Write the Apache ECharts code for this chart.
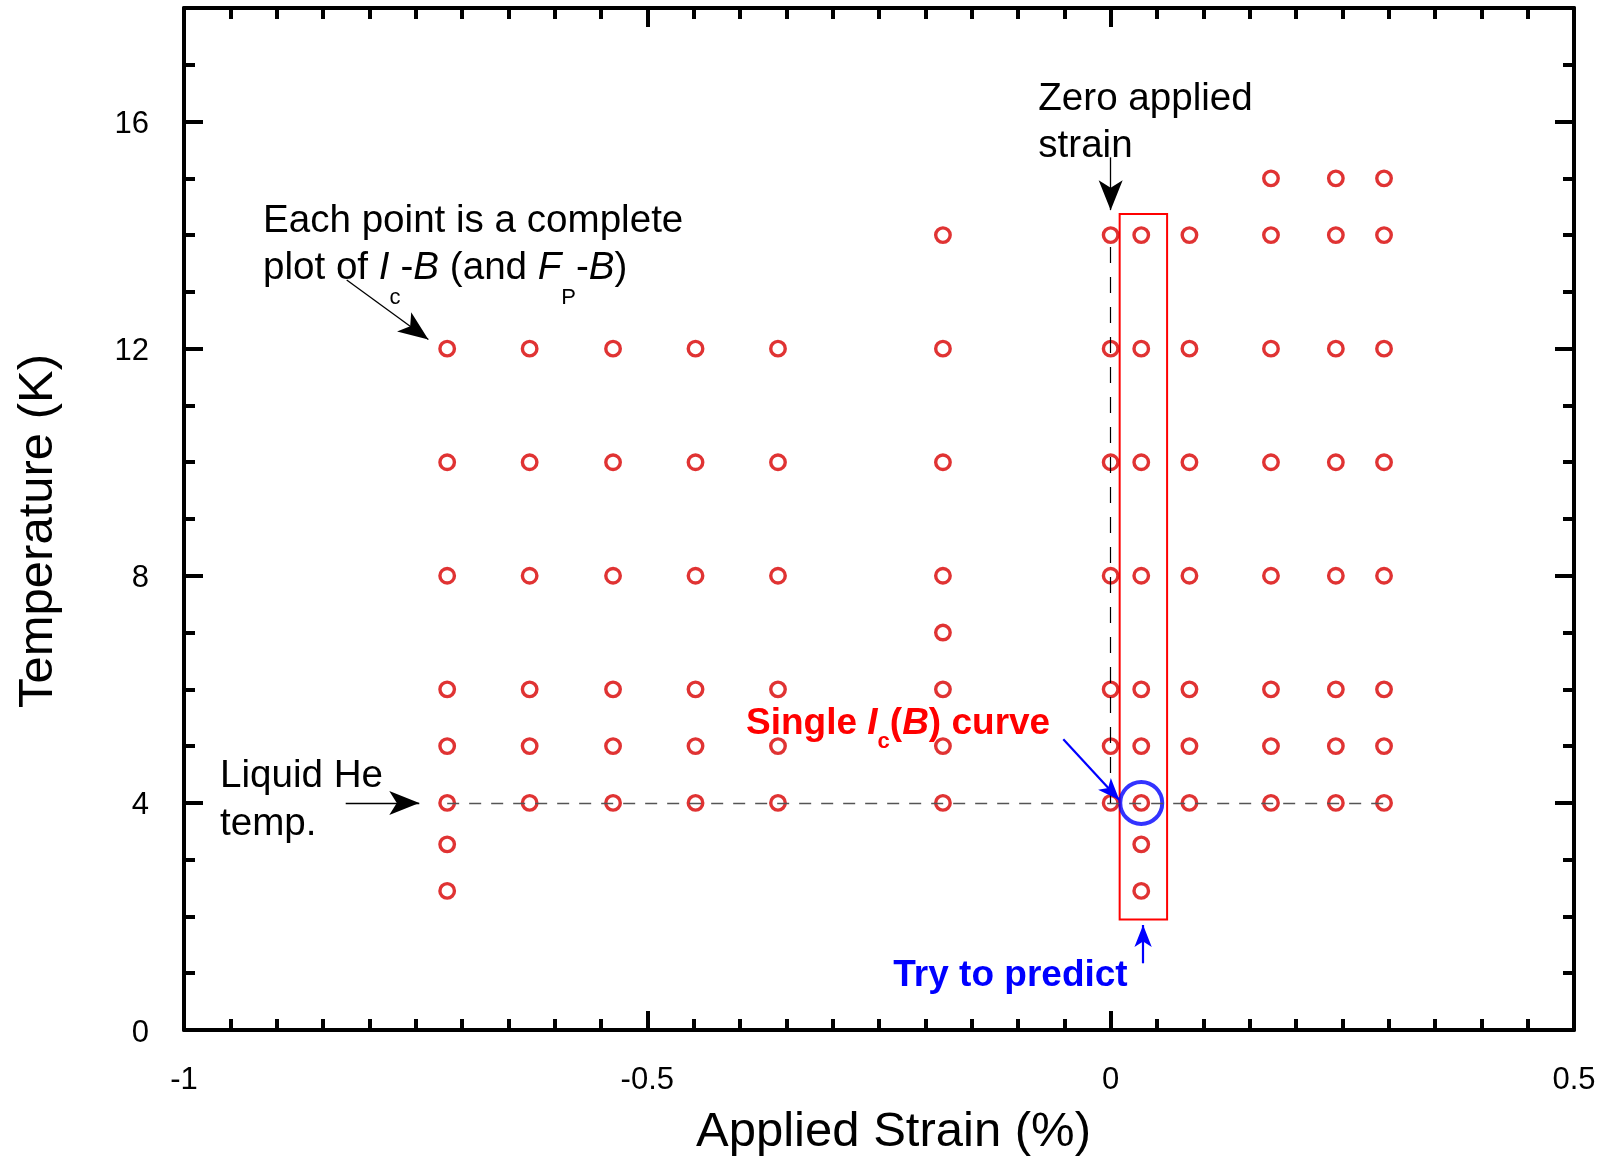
<!DOCTYPE html>
<html>
<head>
<meta charset="utf-8">
<script src="https://cdn.jsdelivr.net/npm/echarts@6/dist/echarts.min.js"></script>
<style>
html,body{margin:0;padding:0;background:#fff;}
#chart{width:1616px;height:1159px;}
</style>
</head>
<body>
<div id="chart"></div>
<script>
// ---- Data ----
const strainColumns = [-0.716, -0.627, -0.537, -0.448, -0.359, -0.181, 0, 0.033, 0.085, 0.173, 0.243, 0.295];
const tempsLongestColumn = [12, 10, 8, 6, 5, 4, 3.27, 2.45];
const tempsCompressive = [12, 10, 8, 6, 5, 4];
const tempsSmallCompressive = [14, 12, 10, 8, 7, 6, 5, 4];
const tempsZeroStrain = [14, 12, 10, 8, 6, 5, 4];
const tempsPredictColumn = [14, 12, 10, 8, 6, 5, 4, 3.27, 2.45];
const tempsSmallTensile = [14, 12, 10, 8, 6, 5, 4];
const tempsTensile = [15, 14, 12, 10, 8, 6, 5, 4];
const columnTemps = [tempsLongestColumn, tempsCompressive, tempsCompressive, tempsCompressive, tempsCompressive,
  tempsSmallCompressive, tempsZeroStrain, tempsPredictColumn, tempsSmallTensile, tempsTensile, tempsTensile, tempsTensile];

const xTickLabels = [-1, -0.5, 0, 0.5];
const yTickLabels = [0, 4, 8, 12, 16];

const liquidHeTemp = 4;
const predictedStrain = 0.033;
const predictedTemp = 4;
const predictBoxStrain = [0.0097, 0.0609];
const predictBoxTemp = [1.945, 14.37];
const zeroLineTemp = [4, 14];
const heLineStrain = [-0.716, 0.295];

// arrows: [start, tip] in data coordinates
const arrowEachPoint = [[-0.8244, 13.21], [-0.7363, 12.16]];
const arrowLiquidHe = [[-0.8255, 4], [-0.7461, 4]];
const arrowZero = [[0, 15.37], [0, 14.44]];
const arrowSingle = [[-0.0511, 5.12], [0.0094, 4.05]];
const arrowTry = [[0.035, 1.175], [0.035, 1.849]];

const points = [];
strainColumns.forEach((s, i) => columnTemps[i].forEach(t => points.push([s, t])));

const FONT = "'Liberation Sans', Arial, Helvetica, sans-serif";
const axisCommon = {
  type: 'value',
  splitLine: { show: false },
  minorSplitLine: { show: false },
  axisLine: { show: true, onZero: false, lineStyle: { color: '#000', width: 4 } },
  axisTick: { show: true, inside: true, length: 19, lineStyle: { color: '#000', width: 4 } }
};
const hiddenLine = { show: false, onZero: false, lineStyle: { color: '#000', width: 4 } };

const chart = echarts.init(document.getElementById('chart'), null, { renderer: 'canvas' });

function arrowLine(pair, color, width, size) {
  return [
    { coord: pair[0], symbol: 'none', lineStyle: { color: color, width: width, type: 'solid' } },
    { coord: pair[1], symbol: 'arrow', symbolSize: size }
  ];
}

const mainStyle = (sz, extra) => Object.assign({ fontFamily: FONT, fontSize: sz, lineHeight: 44, verticalAlign: 'top' }, extra || {});

const option = {
  animation: false,
  backgroundColor: '#fff',
  grid: { left: 184, top: 8, width: 1390, height: 1022, outerBoundsMode: 'none', containLabel: false },
  xAxis: [
    Object.assign({}, axisCommon, {
      position: 'bottom', min: -1, max: 0.5, interval: 0.5,
      minorTick: { show: true, splitNumber: 10, length: 11, lineStyle: { color: '#000', width: 4 } },
      axisLabel: { show: true, fontSize: 31, fontFamily: FONT, color: '#000', margin: 35,
        formatter: v => (xTickLabels.indexOf(+v) >= 0 ? String(+v) : '') }
    }),
    Object.assign({}, axisCommon, {
      position: 'top', min: -1, max: 0.5, interval: 0.5,
      minorTick: { show: true, splitNumber: 10, length: 11, lineStyle: { color: '#000', width: 4 } },
      axisLabel: { show: false }
    })
  ],
  yAxis: [
    Object.assign({}, axisCommon, {
      position: 'left', min: 0, max: 18, interval: 4,
      axisLabel: { show: true, fontSize: 31, fontFamily: FONT, color: '#000', margin: 35,
        formatter: v => (yTickLabels.indexOf(+v) >= 0 ? '{t|' + (+v) + '}' : ''),
        rich: { t: { fontSize: 31, fontFamily: FONT, color: '#000', lineHeight: 31, padding: [6, 0, 0, 0] } } }
    }),
    Object.assign({}, axisCommon, {
      position: 'left', min: 0, max: 18, interval: 1,
      axisLine: hiddenLine,
      axisTick: { show: true, inside: true, length: 11, lineStyle: { color: '#000', width: 4 } },
      axisLabel: { show: false }
    }),
    Object.assign({}, axisCommon, {
      position: 'right', min: 0, max: 18, interval: 4,
      axisLabel: { show: false }
    }),
    Object.assign({}, axisCommon, {
      position: 'right', min: 0, max: 18, interval: 1,
      axisLine: hiddenLine,
      axisTick: { show: true, inside: true, length: 11, lineStyle: { color: '#000', width: 4 } },
      axisLabel: { show: false }
    })
  ],
  series: [
    {
      name: 'guides', type: 'line', data: [], xAxisIndex: 0, yAxisIndex: 0,
      markLine: {
        silent: true, animation: false, symbol: ['none', 'none'],
        label: { show: false }, emphasis: { disabled: true },
        data: [
          [ { coord: [heLineStrain[0], liquidHeTemp], lineStyle: { color: '#555', width: 1.3, type: [12, 10] } },
            { coord: [heLineStrain[1], liquidHeTemp] } ],
          [ { coord: [0, zeroLineTemp[0]], lineStyle: { color: '#000', width: 1.2, type: [16, 14] } },
            { coord: [0, zeroLineTemp[1]] } ]
        ]
      },
      markArea: {
        silent: true,
        itemStyle: { color: 'rgba(0,0,0,0)', borderColor: '#ff0000', borderWidth: 2 },
        label: { show: false },
        data: [[ { coord: [predictBoxStrain[0], predictBoxTemp[1]] }, { coord: [predictBoxStrain[1], predictBoxTemp[0]] } ]]
      }
    },
    {
      name: 'measurements', type: 'scatter', xAxisIndex: 0, yAxisIndex: 0,
      data: points, symbol: 'circle', symbolSize: 14.5,
      itemStyle: { color: 'rgba(0,0,0,0)', borderColor: '#d80000', borderWidth: 3.4 },
      emphasis: { disabled: true }, z: 3
    },
    {
      name: 'single curve', type: 'scatter', xAxisIndex: 0, yAxisIndex: 0,
      data: [[predictedStrain, predictedTemp]], symbol: 'circle', symbolSize: 42,
      itemStyle: { color: 'rgba(0,0,0,0)', borderColor: '#0000ff', borderWidth: 4 },
      emphasis: { disabled: true }, z: 4
    },
    {
      name: 'arrows', type: 'line', data: [], xAxisIndex: 0, yAxisIndex: 0,
      markLine: {
        silent: true, animation: false, label: { show: false }, emphasis: { disabled: true },
        data: [
          arrowLine(arrowEachPoint, '#000', 1.3, [18, 30]),
          arrowLine(arrowLiquidHe, '#000', 1.3, [18, 30]),
          arrowLine(arrowZero, '#000', 1.3, [18, 30]),
          arrowLine(arrowSingle, '#0000ff', 2.2, [13, 22]),
          arrowLine(arrowTry, '#0000ff', 2.2, [13, 22])
        ]
      },
      z: 5
    }
  ],
  graphic: [
    { type: 'text', x: 893.5, y: 1132, silent: true,
      style: { text: 'Applied Strain (%)', fontFamily: FONT, fontSize: 49, fill: '#000', align: 'center', verticalAlign: 'middle' } },
    { type: 'text', x: 38.6, y: 531, rotation: Math.PI / 2, silent: true,
      style: { text: 'Temperature (K)', fontFamily: FONT, fontSize: 49, fill: '#000', align: 'center', verticalAlign: 'middle' } },

    { type: 'text', x: 263, y: 201.8, silent: true,
      style: { text: '{n|Each point is a complete}', align: 'left', verticalAlign: 'top', fill: '#000',
        rich: { n: mainStyle(38.6, { fill: '#000' }) } } },
    { type: 'text', x: 263, y: 248.5, silent: true,
      style: { text: '{n|plot of }{i|I}{s|c}{n|-}{i|B}{n| (and }{i|F}{s|P}{n|-}{i|B}{n|)}', align: 'left', verticalAlign: 'top', fill: '#000',
        rich: {
          n: mainStyle(38.6, { fill: '#000' }),
          i: mainStyle(38.6, { fill: '#000', fontStyle: 'italic' }),
          s: { fontFamily: FONT, fontSize: 22, lineHeight: 22, verticalAlign: 'top', padding: [38, 0, 0, 0], fill: '#000' }
        } } },
    { type: 'text', x: 1038.3, y: 80.1, silent: true,
      style: { text: '{n|Zero applied}', align: 'left', verticalAlign: 'top', rich: { n: mainStyle(38.6, { fill: '#000' }) } } },
    { type: 'text', x: 1038.3, y: 126.8, silent: true,
      style: { text: '{n|strain}', align: 'left', verticalAlign: 'top', rich: { n: mainStyle(38.6, { fill: '#000' }) } } },
    { type: 'text', x: 220, y: 756.8, silent: true,
      style: { text: '{n|Liquid He}', align: 'left', verticalAlign: 'top', rich: { n: mainStyle(38.6, { fill: '#000' }) } } },
    { type: 'text', x: 220, y: 805.1, silent: true,
      style: { text: '{n|temp.}', align: 'left', verticalAlign: 'top', rich: { n: mainStyle(38.6, { fill: '#000' }) } } },
    { type: 'text', x: 746, y: 705.5, silent: true,
      style: { text: '{b|Single }{bi|I}{s|c}{b|(}{bi|B}{b|) curve}', align: 'left', verticalAlign: 'top',
        rich: {
          b: mainStyle(37, { fill: '#ff0000', fontWeight: 'bold' }),
          bi: mainStyle(37, { fill: '#ff0000', fontWeight: 'bold', fontStyle: 'italic' }),
          s: { fontFamily: FONT, fontSize: 22, lineHeight: 22, fontWeight: 'bold', verticalAlign: 'top', padding: [25, 0, 0, 0], fill: '#ff0000' }
        } } },
    { type: 'text', x: 893.3, y: 957.5, silent: true,
      style: { text: '{b|Try to predict}', align: 'left', verticalAlign: 'top',
        rich: { b: mainStyle(37, { fill: '#0000ff', fontWeight: 'bold' }) } } }
  ]
};

chart.setOption(option);
</script>
</body>
</html>
